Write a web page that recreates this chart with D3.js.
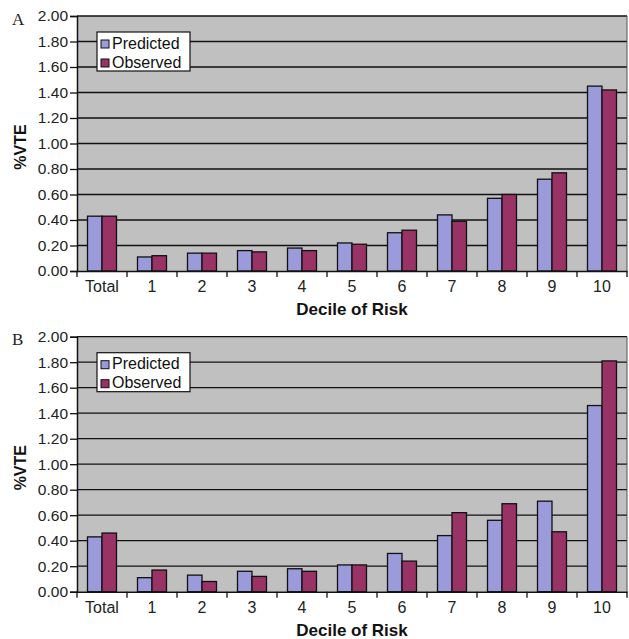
<!DOCTYPE html>
<html><head><meta charset="utf-8">
<script src="https://cdn.jsdelivr.net/npm/d3@7"></script>
<style>body{margin:0;background:#fff}svg{display:block}</style>
</head><body>
<script>
const categories = ["Total","1","2","3","4","5","6","7","8","9","10"];
const seriesNames = ["Predicted","Observed"];
const panelLabels = ["A","B"];
const predictedA = [0.43,0.11,0.14,0.16,0.18,0.22,0.30,0.44,0.57,0.72,1.45];
const observedA  = [0.43,0.12,0.14,0.15,0.16,0.21,0.32,0.39,0.60,0.77,1.42];
const predictedB = [0.43,0.11,0.13,0.16,0.18,0.21,0.30,0.44,0.56,0.71,1.46];
const observedB  = [0.46,0.17,0.08,0.12,0.16,0.21,0.24,0.62,0.69,0.47,1.81];
const yTicks = [0,0.2,0.4,0.6,0.8,1.0,1.2,1.4,1.6,1.8,2.0];
const colors = ["#9b9bdb","#993366"];

const W = 629, H = 639;
const svg = d3.select("body").append("svg").attr("width",W).attr("height",H);
const font = "Arial, 'Liberation Sans', sans-serif";

const panels = [
  {label: panelLabels[0], data:[predictedA, observedA], top:16},
  {label: panelLabels[1], data:[predictedB, observedB], top:336.7}
];

const left = 77, right = 627, ph = 255;
const x0 = d3.scaleBand().domain(categories).range([left,right]).padding(0);
const x1 = d3.scaleBand().domain(seriesNames).range([0,x0.bandwidth()]).paddingInner(0).paddingOuter(0.724);

panels.forEach(p => {
  const y = d3.scaleLinear().domain([0,2]).range([p.top+ph, p.top]);
  const g = svg.append("g");
  g.append("rect").attr("x",left).attr("y",p.top).attr("width",right-left).attr("height",ph)
    .attr("fill","#c0c0c0");
  g.selectAll("line.grid").data(yTicks.filter(t=>t>0)).join("line")
    .attr("x1",left).attr("x2",right).attr("y1",d=>y(d)).attr("y2",d=>y(d))
    .attr("stroke","#111").attr("stroke-width",1.3);
  g.append("line").attr("x1",right).attr("x2",right).attr("y1",p.top).attr("y2",p.top+ph)
    .attr("stroke","#555").attr("stroke-width",1);
  categories.forEach((c,i) => {
    seriesNames.forEach((s,j) => {
      const v = p.data[j][i];
      g.append("rect")
        .attr("x", x0(c)+x1(s)).attr("width", x1.bandwidth())
        .attr("y", y(v)).attr("height", y(0)-y(v))
        .attr("fill", colors[j]).attr("stroke","#111").attr("stroke-width",1.3);
    });
  });
  const ya = d3.axisLeft(y).tickValues(yTicks).tickFormat(d3.format(".2f")).tickSize(7).tickPadding(2);
  const yg = g.append("g").attr("transform",`translate(${left},0)`).call(ya);
  yg.select(".domain").attr("stroke","#111").attr("stroke-width",1.5);
  yg.selectAll(".tick line").attr("stroke","#111").attr("stroke-width",1.3);
  yg.selectAll("text").attr("font-family",font).attr("font-size",15.5).attr("fill","#222");
  const xa = d3.axisBottom(x0).tickSize(0).tickPadding(0);
  const xg = g.append("g").attr("transform",`translate(0,${p.top+ph})`).call(xa);
  xg.select(".domain").attr("stroke","#111").attr("stroke-width",1.5);
  xg.selectAll("text").attr("font-family",font).attr("font-size",16).attr("fill","#222")
    .attr("dy",null).attr("y",21);
  const bounds = categories.map(c=>x0(c)).concat([right]);
  xg.selectAll("line.bt").data(bounds).join("line")
    .attr("x1",d=>d).attr("x2",d=>d).attr("y1",0).attr("y2",6)
    .attr("stroke","#111").attr("stroke-width",1.3);
  g.append("text").attr("x",352).attr("y",p.top+ph+44).attr("text-anchor","middle")
    .attr("font-family",font).attr("font-weight","bold").attr("font-size",17).attr("fill","#111")
    .text("Decile of Risk");
  g.append("text").attr("transform",`translate(26,${p.top+131}) rotate(-90)`).attr("text-anchor","middle")
    .attr("font-family",font).attr("font-weight","bold").attr("font-size",16).attr("fill","#111")
    .text("%VTE");
  g.append("text").attr("x",12).attr("y",p.top+8.5).attr("font-family","'Liberation Serif','DejaVu Serif',serif")
    .attr("font-size",17).attr("fill","#222").text(p.label);
  const lg = g.append("g").attr("transform",`translate(97,${p.top+16})`);
  lg.append("rect").attr("x",0).attr("y",0).attr("width",93).attr("height",39)
    .attr("fill","#fff").attr("stroke","#111").attr("stroke-width",1.2);
  seriesNames.forEach((s,j)=>{
    lg.append("rect").attr("x",4).attr("y",8+j*19).attr("width",8).attr("height",8)
      .attr("fill",colors[j]).attr("stroke","#111").attr("stroke-width",1);
    lg.append("text").attr("x",15).attr("y",16.5+j*19).attr("font-family",font).attr("font-size",16)
      .attr("fill","#111").text(s);
  });
});
</script>
</body></html>
